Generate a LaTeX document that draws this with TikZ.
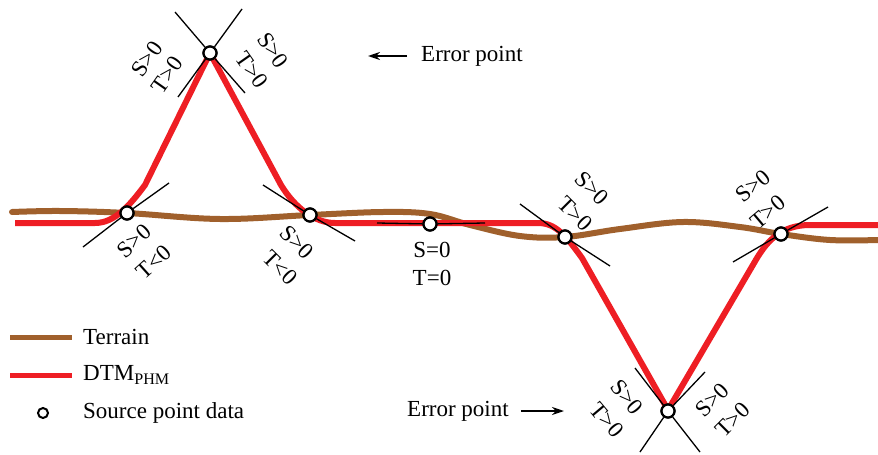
\documentclass[tikz,border=0pt]{standalone}
\usepackage{fontspec}
\setmainfont{Liberation Serif}
\usetikzlibrary{arrows.meta}
\definecolor{terrain}{RGB}{160,96,44}
\definecolor{dtm}{RGB}{238,30,36}
\tikzset{
  terrainline/.style={terrain,line width=6pt,line cap=round},
  dtmline/.style={dtm,line width=6pt,line join=round},
  tangent/.style={black,line width=1.3pt},
  srcpt/.style={circle,draw=black,fill=white,line width=2.2pt,inner sep=0pt,minimum size=13pt},
  lbl/.style={font=\fontsize{23}{25}\selectfont,inner sep=0pt},
  txt/.style={font=\fontsize{23}{26}\selectfont,inner sep=0pt},
  errarrow/.style={-{Stealth[length=12pt,width=8pt]},line width=1.8pt}
}
\begin{document}
\begin{tikzpicture}[x=1pt,y=-1pt]
\useasboundingbox (0,0) rectangle (878,455);
% terrain
\draw[terrainline] plot[smooth,tension=0.6] coordinates {(12,212) (60,211) (127,213) (220,219) (310,215) (383,212) (430,214) (470,225) (520,236) (565,237) (620,229) (683,222) (740,227) (781,234) (830,240) (878,240)};
% DTM
\draw[dtmline] (15,223) -- (95,223) .. controls (115,223) and (130,205) .. (145,185) -- (210,53) -- (281,185) .. controls (295,208) and (315,223) .. (335,223) -- (538,223) .. controls (556,223) and (566,236) .. (582,258) -- (668,410) -- (757,258) .. controls (768,240) and (782,225) .. (810,225) -- (878,225);
% source points
\node[srcpt] (P) at (210,53) {};
\node[srcpt] (A) at (127,213) {};
\node[srcpt] (B) at (310,215) {};
\node[srcpt] (C) at (430,224) {};
\node[srcpt] (D) at (565,237) {};
\node[srcpt] (E) at (781,234) {};
\node[srcpt] (F) at (668,411) {};
% tangent lines
\coordinate (p1a) at (175,12); \coordinate (p1b) at (245,93);
\coordinate (p2a) at (242,9); \coordinate (p2b) at (178,97);
\coordinate (a1) at (83,247); \coordinate (a2) at (169,183);
\coordinate (b1) at (263,185); \coordinate (b2) at (355,241);
\coordinate (c1) at (377,223); \coordinate (c2) at (485,223);
\coordinate (d1) at (520,204); \coordinate (d2) at (610,266);
\coordinate (e1) at (733,262); \coordinate (e2) at (828,207);
\coordinate (f1a) at (635,368); \coordinate (f1b) at (700,452);
\coordinate (f2a) at (705,372); \coordinate (f2b) at (640,452);
\draw[tangent] (p1a) -- (P) -- (p1b);
\draw[tangent] (p2a) -- (P) -- (p2b);
\draw[tangent] (a1) -- (A) -- (a2);
\draw[tangent] (b1) -- (B) -- (b2);
\draw[tangent] (c1) -- (C) -- (c2);
\draw[tangent] (d1) -- (D) -- (d2);
\draw[tangent] (e1) -- (E) -- (e2);
\draw[tangent] (f1a) -- (F) -- (f1b);
\draw[tangent] (f2a) -- (F) -- (f2b);
% redraw points on top
\foreach \n in {P,A,B,C,D,E,F} {\node[srcpt] at (\n) {};}
% labels
\node[lbl,rotate=55] (lPs1) at (147,59) {S>0};
\node[lbl,rotate=55] (lPt1) at (167,75) {T>0};
\node[lbl,rotate=-55] (lPs2) at (273,50) {S>0};
\node[lbl,rotate=-55] (lPt2) at (252,70) {T>0};
\node[lbl,rotate=42] (lAs) at (134,241) {S>0};
\node[lbl,rotate=42] (lAt) at (154,262) {T<0};
\node[lbl,rotate=-45] (lBs) at (297,242) {S>0};
\node[lbl,rotate=-45] (lBt) at (280,268) {T<0};
\node[lbl] (lCs) at (432,250) {S=0};
\node[lbl] (lCt) at (432,278) {T=0};
\node[lbl,rotate=-45] (lDs) at (592,188) {S>0};
\node[lbl,rotate=-45] (lDt) at (575,214) {T>0};
\node[lbl,rotate=40] (lEs) at (753,186) {S>0};
\node[lbl,rotate=40] (lEt) at (768,212) {T>0};
\node[lbl,rotate=-50] (lFs1) at (627,397) {S>0};
\node[lbl,rotate=-50] (lFt1) at (607,420) {T>0};
\node[lbl,rotate=45] (lFs2) at (712,400) {S>0};
\node[lbl,rotate=45] (lFt2) at (733,420) {T>0};
% error points
\node[txt,anchor=west] (err1) at (421,56) {Error point};
\coordinate (err1tip) at (368,56);
\draw[errarrow] ([xshift=-14pt]err1.west) -- (err1tip);
\node[txt,anchor=west] (err2) at (407,411) {Error point};
\coordinate (err2tip) at (564,411);
\draw[errarrow] ([xshift=12pt]err2.east) -- (err2tip);
% legend
\coordinate (lg1a) at (10,337); \coordinate (lg1b) at (72,337);
\coordinate (lg2a) at (10,375); \coordinate (lg2b) at (72,375);
\draw[terrain,line width=5pt] (lg1a) -- (lg1b);
\draw[dtm,line width=5pt] (lg2a) -- (lg2b);
\node[txt,anchor=west] (legT) at (83,337) {Terrain};
\node[txt,anchor=west] (legD) at (83,375) {DTM\textsubscript{PHM}};
\node[circle,draw=black,fill=white,line width=2pt,inner sep=0pt,minimum size=10pt] (legC) at (43,413) {};
\node[txt,anchor=west] (legS) at (83,413) {Source point data};
\end{tikzpicture}
\end{document}
